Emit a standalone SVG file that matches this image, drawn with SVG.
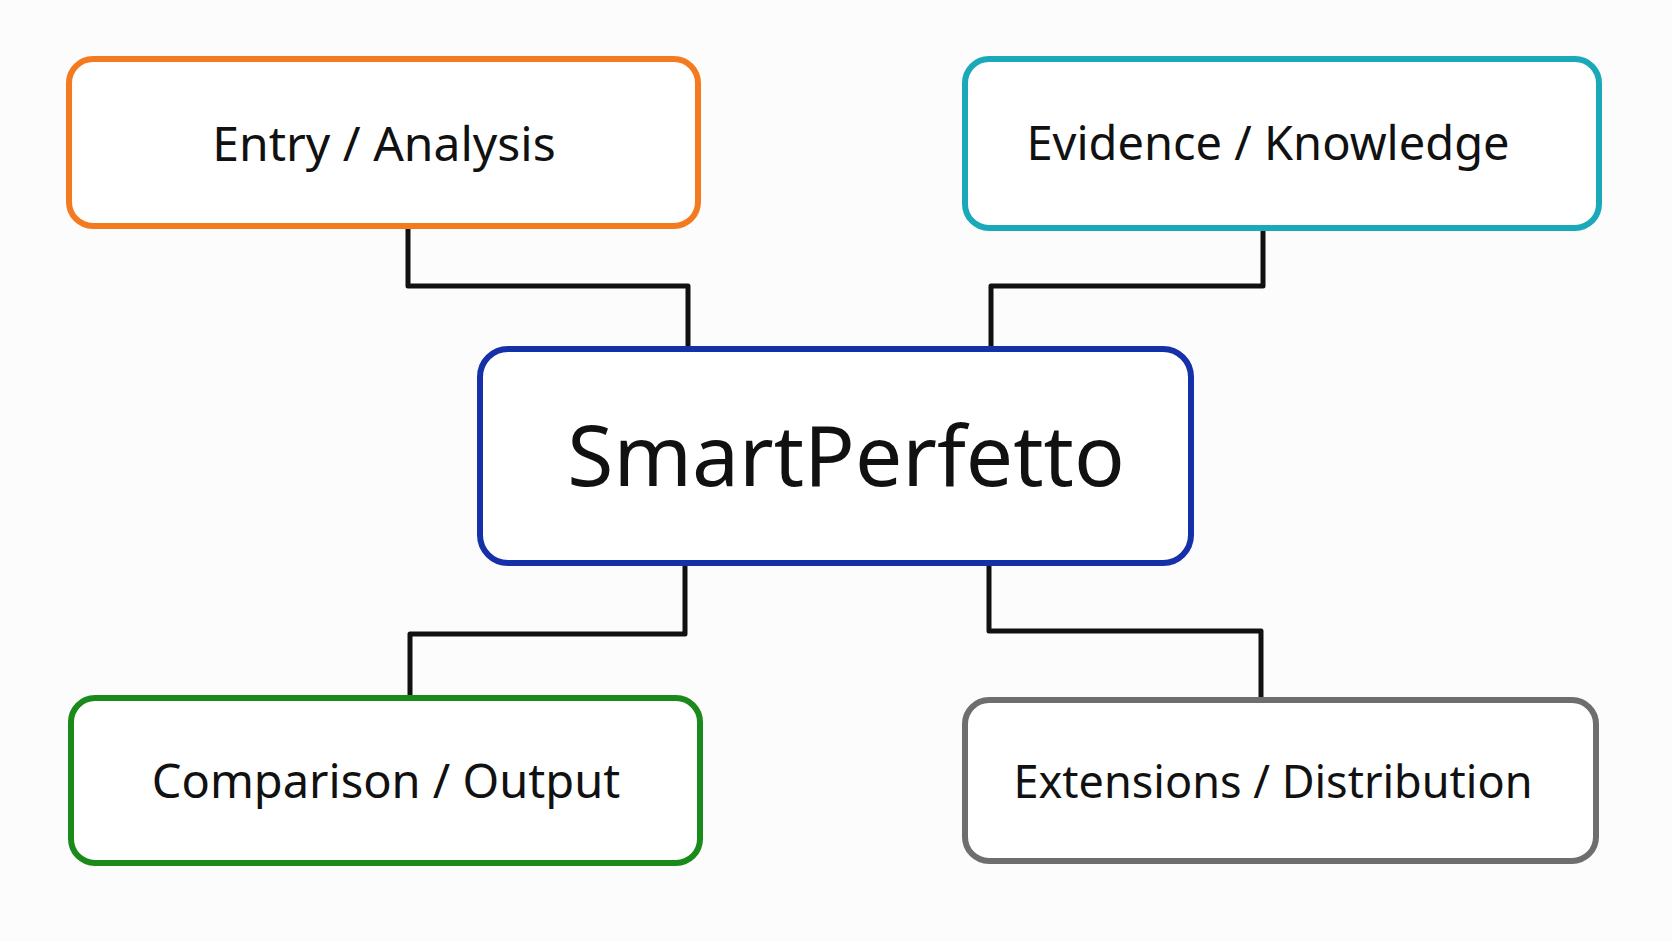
<svg xmlns="http://www.w3.org/2000/svg" width="1672" height="941" viewBox="0 0 1672 941">
<style>
.box{fill:#fff;stroke-width:6}
.t{font-family:"Noto Sans","Liberation Sans",sans-serif;fill:#111;text-anchor:middle;dominant-baseline:central}
.c{fill:none;stroke:#111;stroke-width:5;stroke-linejoin:round}
</style>
<rect width="1672" height="941" fill="#fcfcfc"/>
<g id="connectors">
<path class="c" d="M408 226V286H688V349"/>
<path class="c" d="M1263 228V286H991V349"/>
<path class="c" d="M685 563V634H410V698"/>
<path class="c" d="M989 563V631H1261V700"/>
</g>
<g id="entry"><rect class="box" x="69" y="59" width="629" height="167" rx="24" stroke="#f47a20"/><text class="t" x="384" y="142" font-size="48">Entry / Analysis</text></g>
<g id="evidence"><rect class="box" x="965" y="59" width="634" height="169" rx="24" stroke="#1aa9b8"/><text class="t" x="1268" y="142" font-size="47">Evidence / Knowledge</text></g>
<g id="center"><rect class="box" x="480" y="349" width="711" height="214" rx="28" stroke="#1530a8"/><text class="t" x="846" y="453" font-size="84">SmartPerfetto</text></g>
<g id="comparison"><rect class="box" x="71" y="698" width="629" height="165" rx="24" stroke="#1a8a1a"/><text class="t" x="386" y="780" font-size="47">Comparison / Output</text></g>
<g id="extensions"><rect class="box" x="965" y="700" width="631" height="161" rx="24" stroke="#6e6e6e"/><text class="t" x="1273" y="780" font-size="45">Extensions / Distribution</text></g>
</svg>
